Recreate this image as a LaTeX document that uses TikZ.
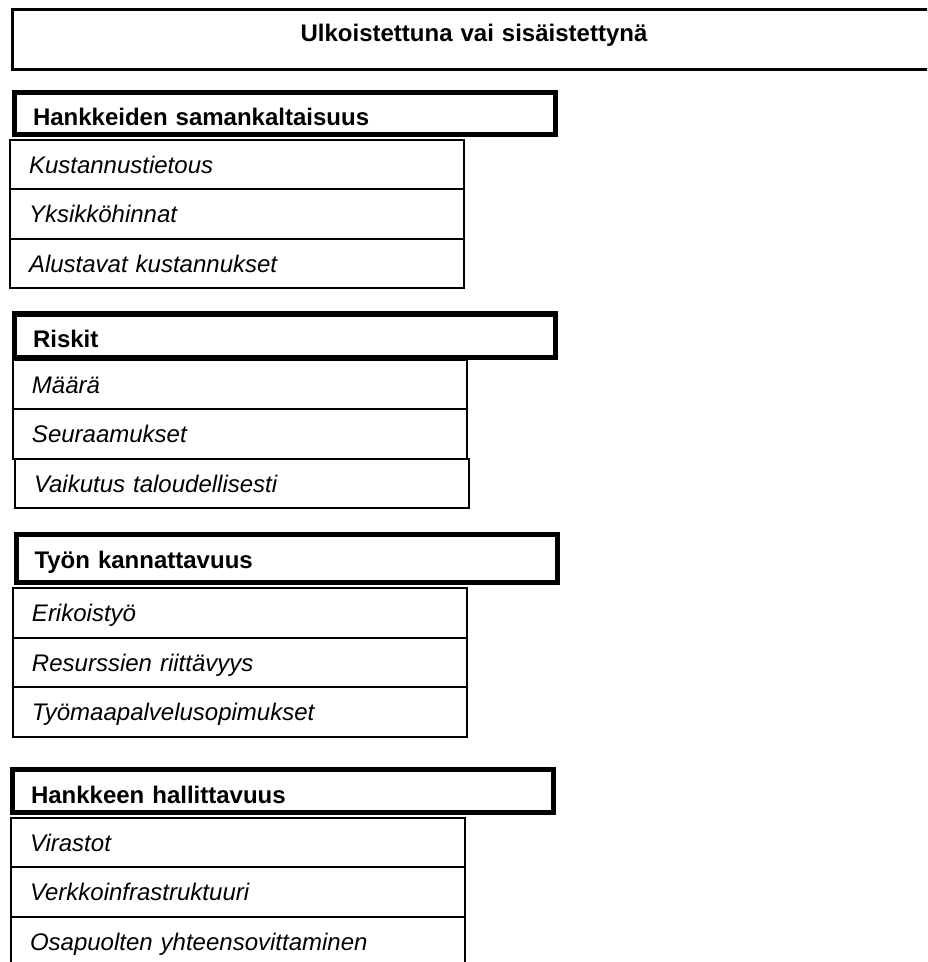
\documentclass[tikz,border=0pt]{standalone}
\usepackage{fontspec}
\setmainfont{Liberation Sans}

\tikzset{
  otsikko/.style={draw, line width=1.5pt, inner sep=0pt, outer sep=0pt, anchor=north west,
    text width=461.5pt, align=center, text height=16.25pt, text depth=13.75pt,
    font=\fontsize{12}{14}\selectfont\bfseries},
  ryhma/.style={draw, line width=2.5pt, inner xsep=9.25pt, inner ysep=0pt, outer sep=0pt,
    anchor=north west, text width=252pt, align=left, text height=16.75pt, text depth=4.5pt,
    font=\fontsize{12}{14}\selectfont\bfseries},
  kohta/.style={draw, line width=1pt, inner xsep=9.5pt, inner ysep=0pt, outer sep=0pt,
    anchor=north west, text width=208pt, align=left, text height=16.75pt, text depth=8pt,
    font=\fontsize{12}{14}\selectfont\itshape},
}

\begin{document}
\begin{tikzpicture}[x=0.5pt, y=-0.5pt]
  \useasboundingbox (0,0) rectangle (927,962);
  \clip (0,0) rectangle (927,962);

  %--- otsikko
  \node[otsikko] (otsikko) at (12.5,9.5) {Ulkoistettuna vai sisäistettynä};

  %--- hankkeiden samankaltaisuus
  \node[ryhma] (samank) at (14.5,92.5) {Hankkeiden samankaltaisuus};
  \node[kohta] (kustiet) at (10,140) {Kustannustietous};
  \node[kohta] (yksikko) at (kustiet.south west) {Yksikköhinnat};
  \node[kohta] (alustav) at (yksikko.south west) {Alustavat kustannukset};

  %--- riskit
  \node[ryhma, text depth=5pt] (riskit) at (14.5,314) {Riskit};
  \node[kohta] (maara) at (13,359.5) {Määrä};
  \node[kohta] (seuraam) at (maara.south west) {Seuraamukset};
  \node[kohta] (vaikutus) at (15,458.5) {Vaikutus taloudellisesti};

  %--- tyon kannattavuus
  \node[ryhma, text depth=7.25pt] (kannatt) at (16,534.5) {Työn kannattavuus};
  \node[kohta] (erikois) at (13,588) {Erikoistyö};
  \node[kohta] (resurssi) at (erikois.south west) {Resurssien riittävyys};
  \node[kohta] (tyomaa) at (resurssi.south west) {Työmaapalvelusopimukset};

  %--- hankkeen hallittavuus
  \node[ryhma] (hallitt) at (12.5,769.5) {Hankkeen hallittavuus};
  \node[kohta] (virastot) at (11,817.5) {Virastot};
  \node[kohta] (verkko) at (virastot.south west) {Verkkoinfrastruktuuri};
  \node[kohta] (osapuol) at (verkko.south west) {Osapuolten yhteensovittaminen};
\end{tikzpicture}
\end{document}
